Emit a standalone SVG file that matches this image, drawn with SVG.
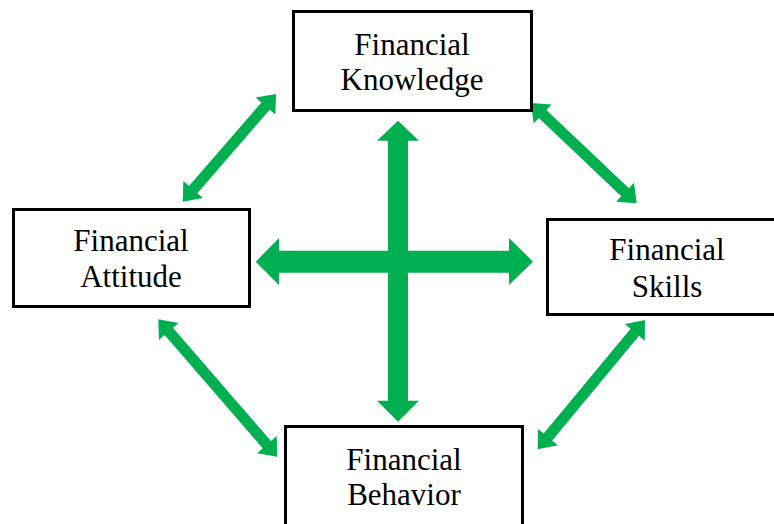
<svg xmlns="http://www.w3.org/2000/svg" width="774" height="524" viewBox="0 0 774 524">
<style>
.box{fill:#fff;stroke:#000;stroke-width:3}
.lbl{font-family:"Liberation Serif","Times New Roman",serif;font-size:31px;fill:#000;text-anchor:middle}
.arr{fill:#00B050}
</style>
<rect width="774" height="524" fill="#fff"/>
<g id="connectors">
<polygon class="arr" transform="translate(182.7,201.7) rotate(-49.1)" points="0,0 16,-13 16,-5.5 126.5,-5.5 126.5,-13 142.5,0 126.5,13 126.5,5.5 16,5.5 16,13"/>
<polygon class="arr" transform="translate(531,103) rotate(43.5)" points="0,0 16,-13 16,-5.5 129.7,-5.5 129.7,-13 145.7,0 129.7,13 129.7,5.5 16,5.5 16,13"/>
<polygon class="arr" transform="translate(158.3,319.3) rotate(49.1)" points="0,0 16,-13 16,-5.5 165.8,-5.5 165.8,-13 181.8,0 165.8,13 165.8,5.5 16,5.5 16,13"/>
<polygon class="arr" transform="translate(537.7,449.3) rotate(-50.3)" points="0,0 16,-13 16,-5.5 152,-5.5 152,-13 168,0 152,13 152,5.5 16,5.5 16,13"/>
<polygon class="arr" points="398,120.7 419,140.7 408,140.7 408,400.7 419,400.7 398,421.7 377,400.7 388,400.7 388,140.7 377,140.7"/>
<polygon class="arr" points="255.7,261.7 279,238 279,250.7 509,250.7 509,238 533,261.7 509,285 509,272.7 279,272.7 279,285"/>
</g>
<g id="knowledge">
<rect class="box" x="293.5" y="11.5" width="238" height="99"/>
<text class="lbl" x="412" y="55">Financial</text>
<text class="lbl" x="412" y="90">Knowledge</text>
</g>
<g id="attitude">
<rect class="box" x="13.5" y="209.5" width="236" height="97"/>
<text class="lbl" x="131" y="251">Financial</text>
<text class="lbl" x="131" y="287">Attitude</text>
</g>
<g id="skills">
<rect class="box" x="547.5" y="219.5" width="240" height="95"/>
<text class="lbl" x="667" y="260">Financial</text>
<text class="lbl" x="667" y="297">Skills</text>
</g>
<g id="behavior">
<rect class="box" x="285.5" y="426.5" width="237" height="110"/>
<text class="lbl" x="404" y="470">Financial</text>
<text class="lbl" x="404" y="505">Behavior</text>
</g>
</svg>
